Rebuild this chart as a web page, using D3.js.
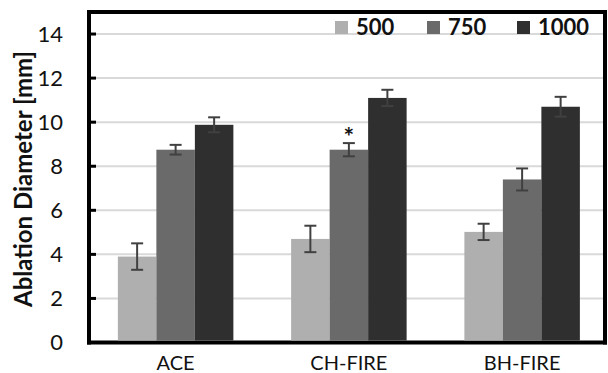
<!DOCTYPE html>
<html>
<head>
<meta charset="utf-8">
<script src="https://cdn.jsdelivr.net/npm/d3@7"></script>
<style>
  html, body { margin: 0; padding: 0; background: #fff; }
  svg { display: block; font-family: Lato, "Open Sans", sans-serif; }
</style>
</head>
<body>
<svg id="chart" width="608" height="373"></svg>
<script>
// data
const categories = ["ACE", "CH-FIRE", "BH-FIRE"];
const series = ["500", "750", "1000"];
const values500 = [3.9, 4.7, 5.02];
const values750 = [8.75, 8.75, 7.4];
const values1000 = [9.88, 11.1, 10.7];
const errors500 = [0.6, 0.6, 0.37];
const errors750 = [0.22, 0.3, 0.5];
const errors1000 = [0.34, 0.37, 0.45];
const yTicks = [0, 2, 4, 6, 8, 10, 12, 14];
const marked = [{ category: "CH-FIRE", series: "750", label: "*" }];

const colors = { "500": "#afafaf", "750": "#6a6a6a", "1000": "#2f2f2f" };
const valuesBySeries = { "500": values500, "750": values750, "1000": values1000 };
const errorsBySeries = { "500": errors500, "750": errors750, "1000": errors1000 };

const svg = d3.select("#chart");

// plot frame
const plotLeft = 89, plotRight = 605, plotTop = 12, plotBottom = 342.5;

const y = d3.scaleLinear().domain([0, 15]).range([plotBottom, plotTop]);
const x0 = d3.scaleBand().domain(categories).range([89, 608.75])
  .paddingInner(1 / 3).paddingOuter(1 / 6);
const x1 = d3.scaleBand().domain(series).range([0, x0.bandwidth()]);

// gridlines
svg.append("g")
  .selectAll("line")
  .data(yTicks.filter(d => d > 0))
  .join("line")
  .attr("x1", plotLeft).attr("x2", plotRight)
  .attr("y1", d => y(d)).attr("y2", d => y(d))
  .attr("stroke", "#d9d9d9")
  .attr("stroke-width", 2);

// bars
const rows = [];
categories.forEach((c, i) => {
  series.forEach(s => {
    rows.push({ category: c, series: s, value: valuesBySeries[s][i], err: errorsBySeries[s][i] });
  });
});

// bottom axis line (drawn under the bars)
svg.append("line")
  .attr("x1", plotLeft - 2).attr("x2", plotRight + 2)
  .attr("y1", plotBottom).attr("y2", plotBottom)
  .attr("stroke", "#000").attr("stroke-width", 4);

svg.append("g")
  .selectAll("rect")
  .data(rows)
  .join("rect")
  .attr("x", d => x0(d.category) + x1(d.series))
  .attr("y", d => y(d.value))
  .attr("width", x1.bandwidth())
  .attr("height", d => plotBottom - 2 - y(d.value))
  .attr("fill", d => colors[d.series]);

// error bars
const eb = svg.append("g")
  .attr("stroke", "#404040")
  .attr("stroke-width", 2);
const cx = d => x0(d.category) + x1(d.series) + x1.bandwidth() / 2;
eb.selectAll("line.v").data(rows).join("line").attr("class", "v")
  .attr("x1", cx).attr("x2", cx)
  .attr("y1", d => y(d.value + d.err)).attr("y2", d => y(d.value - d.err));
eb.selectAll("line.t").data(rows).join("line").attr("class", "t")
  .attr("x1", d => cx(d) - 6).attr("x2", d => cx(d) + 6)
  .attr("y1", d => y(d.value + d.err)).attr("y2", d => y(d.value + d.err));
eb.selectAll("line.b").data(rows).join("line").attr("class", "b")
  .attr("x1", d => cx(d) - 6).attr("x2", d => cx(d) + 6)
  .attr("y1", d => y(d.value - d.err)).attr("y2", d => y(d.value - d.err));

// significance mark
svg.append("g")
  .selectAll("text")
  .data(marked)
  .join("text")
  .attr("x", d => x0(d.category) + x1(d.series) + x1.bandwidth() / 2)
  .attr("y", d => {
    const r = rows.find(r => r.category === d.category && r.series === d.series);
    return y(r.value + r.err) + 3;
  })
  .attr("text-anchor", "middle")
  .attr("font-size", 25)
  .attr("font-weight", "bold")
  .attr("fill", "#111")
  .text(d => d.label);

// frame: left, top, right
svg.append("path")
  .attr("d", `M${plotLeft},${plotBottom + 2}V${plotTop}H${plotRight}V${plotBottom + 2}`)
  .attr("fill", "none")
  .attr("stroke", "#000")
  .attr("stroke-width", 4);

// y axis ticks and labels
const yAxis = svg.append("g");
yAxis.selectAll("line")
  .data(yTicks)
  .join("line")
  .attr("x1", plotLeft).attr("x2", plotLeft + 7)
  .attr("y1", d => y(d)).attr("y2", d => y(d))
  .attr("stroke", "#000").attr("stroke-width", 3);
yAxis.selectAll("text")
  .data(yTicks)
  .join("text")
  .attr("x", 63)
  .attr("y", d => y(d))
  .attr("dy", "0.36em")
  .attr("text-anchor", "end")
  .attr("font-size", 22)
  .attr("fill", "#111")
  .text(d => d);

// x labels
svg.append("g")
  .selectAll("text")
  .data(categories)
  .join("text")
  .attr("x", d => x0(d) + x0.bandwidth() / 2)
  .attr("y", 369.5)
  .attr("text-anchor", "middle")
  .attr("font-size", 20)
  .attr("fill", "#111")
  .text(d => d);

// y title
svg.append("text")
  .attr("transform", "translate(32,179) rotate(-90)")
  .attr("text-anchor", "middle")
  .attr("font-size", 24)
  .attr("font-weight", "bold")
  .attr("fill", "#111")
  .text("Ablation Diameter [mm]");

// legend
const legendX = [335, 427, 517];
const legend = svg.append("g")
  .selectAll("g")
  .data(series)
  .join("g")
  .attr("transform", (d, i) => `translate(${legendX[i]},21)`);
legend.append("rect")
  .attr("width", 13).attr("height", 13)
  .attr("fill", d => colors[d]);
legend.append("text")
  .attr("x", 21)
  .attr("y", 13.5)
  .attr("font-size", 22)
  .attr("font-weight", "bold")
  .attr("fill", "#111")
  .text(d => d);
</script>
</body>
</html>
